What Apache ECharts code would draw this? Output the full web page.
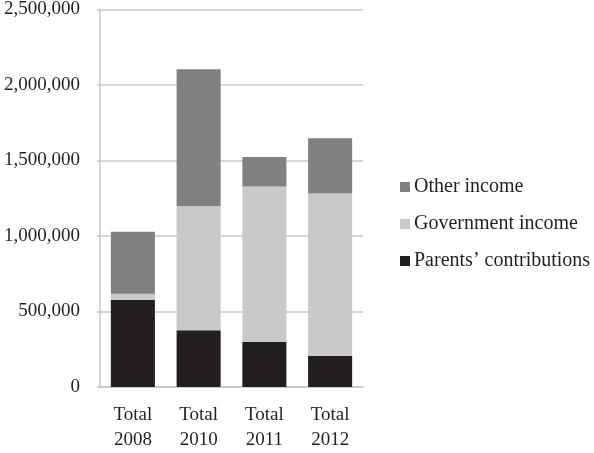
<!DOCTYPE html>
<html>
<head>
<meta charset="utf-8">
<script src="https://cdn.jsdelivr.net/npm/echarts@6/dist/echarts.min.js"></script>
<style>html,body{margin:0;padding:0;background:#fff}#c{width:594px;height:453px}</style>
</head>
<body>
<div id="c"></div>
<script>
const categories = ['Total\n2008', 'Total\n2010', 'Total\n2011', 'Total\n2012'];
const parents = [578000, 376000, 298000, 207000];
const government = [39000, 821000, 1030000, 1075000];
const other = [411000, 907000, 195000, 365000];
const yTicks = [0, 500000, 1000000, 1500000, 2000000, 2500000];

const font = '"Liberation Serif", "DejaVu Serif", serif';
const chart = echarts.init(document.getElementById('c'));
chart.setOption({
  animation: false,
  textStyle: { fontFamily: font },
  grid: { left: 100, right: 231, top: 7.3, bottom: 62.3 },
  legend: {
    orient: 'vertical',
    left: 395, top: 172,
    itemWidth: 10, itemHeight: 10, itemGap: 17,
    icon: 'rect',
    data: ['Other income', 'Government income', 'Parents\u2019 contributions'],
    textStyle: { fontFamily: font, fontSize: 20, lineHeight: 20, color: '#231f20', padding: [0, 0, 0, -1] }
  },
  xAxis: {
    type: 'category',
    data: categories,
    axisLine: { lineStyle: { color: '#c8c8c8', width: 1.5 } },
    axisTick: { show: false },
    axisLabel: { fontFamily: font, fontSize: 19, color: '#231f20', lineHeight: 25, margin: 16 }
  },
  yAxis: {
    type: 'value',
    min: 0, max: 2500000, interval: 500000,
    axisLine: { show: true, lineStyle: { color: '#c8c8c8', width: 1.5 } },
    axisTick: { show: true, length: 3, lineStyle: { color: '#c8c8c8', width: 1.5 } },
    splitLine: { lineStyle: { color: '#c8c8c8', width: 1.5 } },
    axisLabel: {
      fontFamily: font, fontSize: 19, color: '#231f20', margin: 20,
      formatter: v => yTicks.includes(v) ? v.toLocaleString('en-US') : ''
    }
  },
  series: [
    { name: 'Parents\u2019 contributions', type: 'bar', stack: 's', data: parents, barWidth: '67%', itemStyle: { color: '#231f20' } },
    { name: 'Government income', type: 'bar', stack: 's', data: government, itemStyle: { color: '#c8c9cb' } },
    { name: 'Other income', type: 'bar', stack: 's', data: other, itemStyle: { color: '#808083' } }
  ]
});
</script>
</body>
</html>
